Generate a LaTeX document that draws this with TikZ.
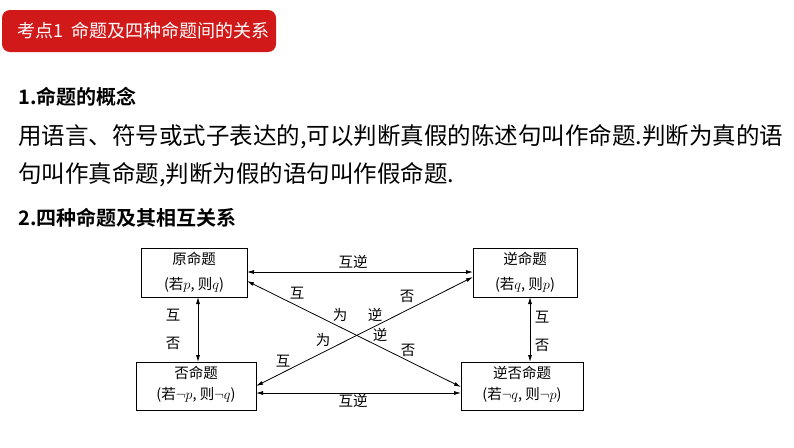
\documentclass[tikz,border=0pt]{standalone}
\usepackage{fontspec}
\newfontfamily\cjk{Noto Sans CJK SC}
\newfontfamily\cjkb{Noto Sans CJK SC Bold}
\usetikzlibrary{arrows.meta}
\tikzset{box/.style={draw,line width=0.9pt,inner sep=0pt},
 dt/.style={font=\cjk\fontsize{14.5}{16}\selectfont,inner sep=0pt},
 link/.style={line width=0.8pt,{Latex[length=7pt,width=4pt]}-{Latex[length=7pt,width=4pt]}}}
\begin{document}
\begin{tikzpicture}[x=1pt,y=-1pt]
\useasboundingbox (0,0) rectangle (794,447);
\fill[red!80!black!90!white, rounded corners=8pt] (2,10) rectangle (276,52);
\node[font=\cjk\fontsize{18}{22}\selectfont,text=white,anchor=west] (title) at (14,31) {考点1\ \ 命题及四种命题间的关系};
\node[font=\cjkb\fontsize{20}{24}\selectfont,anchor=west,inner sep=0pt] (s1) at (18,97) {1.命题的概念};
\node[font=\cjk\fontsize{23.5}{26}\selectfont,anchor=west,inner sep=0pt] (l1) at (18,137) {用语言、符号或式子表达的,可以判断真假的陈述句叫作命题.判断为真的语};
\node[font=\cjk\fontsize{23.5}{26}\selectfont,anchor=west,inner sep=0pt] (l2) at (18,175) {句叫作真命题,判断为假的语句叫作假命题.};
\node[font=\cjkb\fontsize{20}{24}\selectfont,anchor=west,inner sep=0pt] (s2) at (18,218) {2.四种命题及其相互关系};
\draw[box] (141,248) rectangle (247,297);
\draw[box] (473,248) rectangle (577,297);
\draw[box] (136,362) rectangle (256,410);
\draw[box] (461,362) rectangle (583,410);
\node[dt] (a1) at (194,259) {原命题};
\node[dt] (a2) at (194,285) {(若$p$, 则$q$)};
\node[dt] (b1) at (525,259) {逆命题};
\node[dt] (b2) at (525,285) {(若$q$, 则$p$)};
\node[dt] (c1) at (196,373) {否命题};
\node[dt] (c2) at (196,395) {(若$\neg p$, 则$\neg q$)};
\node[dt] (d1) at (522,373) {逆否命题};
\node[dt] (d2) at (522,395) {(若$\neg q$, 则$\neg p$)};
\coordinate (ta) at (247,272); \coordinate (tb) at (473,272);
\coordinate (ba) at (256,393); \coordinate (bb) at (461,393);
\coordinate (la) at (198,297); \coordinate (lb) at (198,362);
\coordinate (ra) at (530,297); \coordinate (rb) at (530,362);
\coordinate (d1s) at (247,281); \coordinate (d1e) at (461,387);
\coordinate (d2s) at (256,386); \coordinate (d2e) at (473,277);
\draw[link] (ta) -- (tb);
\draw[link] (ba) -- (bb);
\draw[link] (la) -- (lb);
\draw[link] (ra) -- (rb);
\draw[link] (d1s) -- (d1e);
\draw[link] (d2s) -- (d2e);
\node[dt] (t1) at (353,262) {互逆};
\node[dt] (t2) at (353,401) {互逆};
\node[dt] (lv1) at (173,315) {互};
\node[dt] (lv2) at (173,343) {否};
\node[dt] (rv1) at (542,317) {互};
\node[dt] (rv2) at (542,345) {否};
\node[dt] (x1) at (297,293) {互};
\node[dt] (x2) at (340,315) {为};
\node[dt] (x3) at (375,315) {逆};
\node[dt] (x4) at (407,296) {否};
\node[dt] (y1) at (323,340) {为};
\node[dt] (y2) at (380,335) {逆};
\node[dt] (y3) at (408,350) {否};
\node[dt] (y4) at (283,361) {互};
\end{tikzpicture}
\end{document}
